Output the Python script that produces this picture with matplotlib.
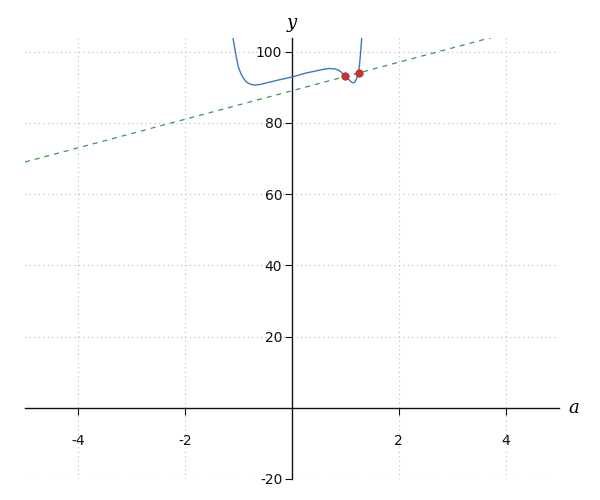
import matplotlib
matplotlib.use("Agg")
import matplotlib.pyplot as plt

plt.rcParams["axes.unicode_minus"] = False

# curve
curve_x = [-1.104, -1.067, -1.035, -1.005, -0.96, -0.911, -0.865, -0.818, -0.76,
           -0.692, -0.60, -0.505, -0.256, 0.013, 0.243, 0.399, 0.586, 0.68, 0.743,
           0.81, 0.866, 0.915, 0.960, 1.024, 1.085, 1.12, 1.147, 1.175, 1.197,
           1.222, 1.241, 1.258, 1.272, 1.29, 1.304]
curve_y = [103.7, 100.4, 97.8, 95.7, 93.9, 92.5, 91.6, 91.1, 90.75,
           90.6, 90.75, 91.1, 92.0, 92.9, 93.9, 94.4, 95.0, 95.2, 95.2,
           95.1, 94.8, 94.3, 93.7, 92.8, 91.8, 91.35, 91.2, 91.4, 92.0,
           92.9, 93.9, 95.5, 97.6, 100.6, 103.7]

# dashed secant line
line_x = [-5.0, 5.0]
line_y = [69.0, 109.0]

# marked points
point_x = [1.0, 1.25]
point_y = [93.0, 94.0]

x_ticks = [-4, -2, 2, 4]
y_ticks = [-20, 20, 40, 60, 80, 100]

fig = plt.figure(figsize=(6, 5), dpi=100)
ax = fig.add_axes([0.0417, 0.042, 0.89, 0.882])

ax.plot(line_x, line_y, color="#3a9a4a", linestyle=(0, (4, 4)), linewidth=0.9, zorder=2)
ax.plot(curve_x, curve_y, color="#3b78c2", linewidth=1.0, zorder=3)
ax.scatter(point_x, point_y, s=28, color="#cc3333", edgecolor="#b02a2a",
           linewidth=0.6, zorder=4)

ax.set_xlim(-5, 5)
ax.set_ylim(-20, 103.8)

ax.spines["left"].set_position(("data", 0))
ax.spines["bottom"].set_position(("data", 0))
ax.spines["top"].set_visible(False)
ax.spines["right"].set_visible(False)
for s in ("left", "bottom"):
    ax.spines[s].set_linewidth(1.0)
    ax.spines[s].set_color("#111111")

ax.set_xticks(x_ticks)
ax.set_yticks(y_ticks)
ax.set_xticklabels([str(t) for t in x_ticks])
ax.set_yticklabels([str(t) for t in y_ticks])
ax.tick_params(axis="x", direction="out", length=5, pad=14, labelsize=10,
               colors="#111111")
ax.tick_params(axis="y", direction="out", length=5, pad=2, labelsize=10,
               colors="#111111")

ax.grid(True, linestyle=(0, (1, 3)), color="#bbbbbb", linewidth=0.8)
ax.set_axisbelow(True)

ax.text(5.18, 0, "a", fontsize=13, family="DejaVu Serif", style="italic",
        ha="left", va="center")
ax.text(0, 105.5, "y", fontsize=13, family="DejaVu Serif", style="italic",
        ha="center", va="bottom")

fig.savefig("out.png", dpi=100)
